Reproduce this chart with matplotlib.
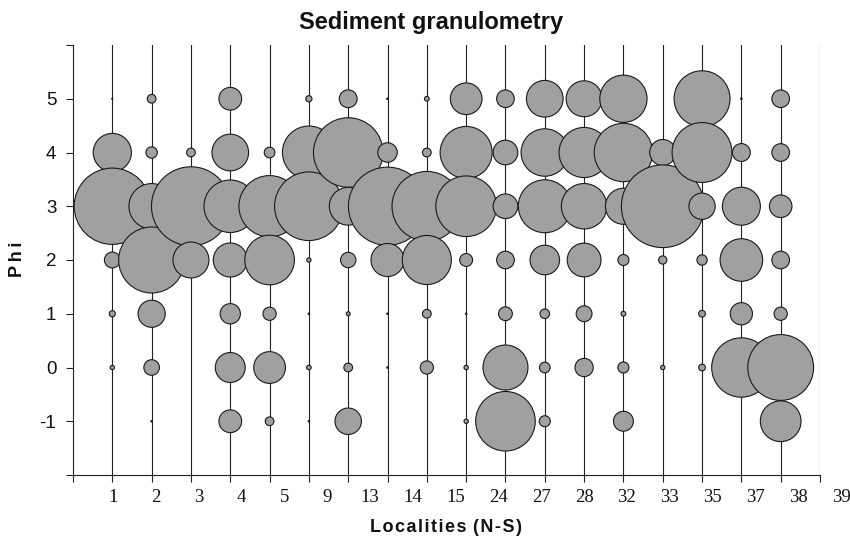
import numpy as np
import matplotlib
matplotlib.use("Agg")
import matplotlib.pyplot as plt
from matplotlib.transforms import blended_transform_factory

# ---------------- data ----------------
localities = ["1", "2", "3", "4", "5", "9", "13", "14", "15", "24", "27", "28",
              "32", "33", "35", "37", "38", "39"]
phi_classes = [5, 4, 3, 2, 1, 0, -1]

# percentage of sediment in each phi class, per locality column (18 columns)
phi_5 = [0.02, 1.0, 0.0, 6.8, 0.0, 0.5, 4.2, 0.03, 0.3, 13.2, 4.1, 17.7,
         17.0, 29.4, 0.0, 41.2, 0.03, 4.1]
phi_4 = [19.2, 1.7, 1.0, 17.7, 1.5, 36.9, 63.6, 5.0, 1.0, 35.7, 8.0, 29.6,
         33.1, 44.8, 8.9, 47.2, 4.2, 4.1]
phi_3 = [76.6, 27.1, 82.0, 36.3, 49.5, 62.0, 18.8, 80.5, 63.8, 48.4, 8.0, 36.9,
         27.2, 17.1, 89.9, 9.1, 19.0, 6.7]
phi_2 = [3.3, 57.3, 17.0, 15.2, 32.4, 0.25, 3.1, 14.4, 31.7, 2.2, 4.1, 11.5,
         15.0, 1.6, 0.9, 1.4, 23.8, 4.1]
phi_1 = [0.5, 9.7, 0.0, 5.4, 2.3, 0.03, 0.2, 0.03, 1.0, 0.03, 2.5, 1.2,
         3.3, 0.3, 0.0, 0.6, 6.5, 2.3]
phi_0 = [0.25, 3.2, 0.0, 11.8, 13.3, 0.27, 1.0, 0.03, 2.3, 0.25, 26.6, 1.5,
         4.4, 1.6, 0.25, 0.6, 46.4, 57.0]
phi_m1 = [0.0, 0.03, 0.0, 6.8, 1.0, 0.03, 9.2, 0.0, 0.0, 0.25, 46.7, 1.6,
          0.0, 5.2, 0.0, 0.0, 0.0, 21.8]

series = [phi_5, phi_4, phi_3, phi_2, phi_1, phi_0, phi_m1]

# ---------------- figure ----------------
plt.rcParams['font.family'] = ['Liberation Sans', 'DejaVu Sans']
fig = plt.figure(figsize=(8.5, 5.43), dpi=100)
ax = fig.add_axes([73 / 850, 1 - 475 / 543, (820 - 73) / 850, (475 - 45) / 543])

ncol = len(localities)
xpos = np.arange(1, ncol + 1)

# vertical drop lines for every locality (plus closing line on the right)
for x in list(xpos) + [ncol + 1]:
    ax.plot([x, x], [-2, 6], color="#222222", lw=0.8, zorder=1)

# bubbles, column by column
xs, ys, ss = [], [], []
for j in range(ncol):
    for phi, vals in zip(phi_classes, series):
        v = vals[j]
        if v > 0:
            xs.append(xpos[j])
            ys.append(phi)
            ss.append(v)
ss = np.array(ss)
ax.scatter(xs, ys, s=ss * 39.4, c="#a0a0a0", edgecolors="#1a1a1a",
           linewidths=0.8, zorder=3)

ax.set_xlim(0, ncol + 1)
ax.set_ylim(-2, 6)

for sp in ["top", "right"]:
    ax.spines[sp].set_visible(False)
ax.spines["left"].set_linewidth(0.8)
ax.spines["bottom"].set_linewidth(0.8)
ax.spines["left"].set_color("#222222")
ax.spines["bottom"].set_color("#222222")

ax.set_yticks(np.arange(-2, 7))
ax.set_yticklabels(["" if (t < -1 or t > 5) else str(t) for t in range(-2, 7)],
                   fontsize=13.5)
ax.set_xticks(np.arange(0, ncol + 2))
ax.set_xticklabels([])
ax.tick_params(axis="both", direction="out", length=5, width=0.8,
               color="#222222", labelcolor="#111111")
ax.tick_params(axis="y", pad=7)

# x labels (drawn as text, slightly wider spacing than the ticks)
trans = blended_transform_factory(ax.transData, ax.transAxes)
step = 42.8 / 39.3
for i, lab in enumerate(localities):
    ax.text(1.02 + i * step, -0.052, lab, transform=trans, ha="center",
            va="center", fontsize=13.5, family=["Liberation Serif", "DejaVu Serif"],
            color="#111111", clip_on=False)

fig.text(431 / 850, 1 - 22 / 543, "Sediment granulometry", ha="center",
         va="center", fontsize=17, fontweight="bold", color="#111111")

hs = "\u200a"
ts = "\u2009"
fig.text(446 / 850, 1 - 528 / 543, hs.join("Localities") + hs + " " + hs.join("(N-S)"),
         ha="center", va="center", fontsize=13, fontweight="bold", color="#111111")
fig.text(18 / 850, 1 - 259 / 543, ts.join("Phi"), ha="center", va="center",
         rotation=90, fontsize=13, fontweight="bold", color="#111111")

fig.savefig("out.png", dpi=100)
